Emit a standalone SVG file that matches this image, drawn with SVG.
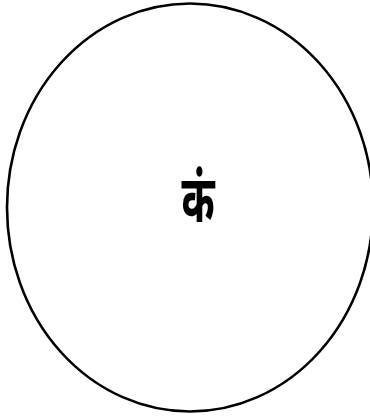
<svg xmlns="http://www.w3.org/2000/svg" width="370" height="418" viewBox="0 0 370 418">
<style>
.outline{fill:none;stroke:#000;stroke-width:2.6}
.lbl{font-family:"Noto Sans","Noto Sans Devanagari","DejaVu Sans",sans-serif;font-size:40px;font-weight:bold;fill:#000;text-anchor:middle}
</style>
<rect width="370" height="418" fill="#fff"/>
<g id="node-circle">
<ellipse class="outline" cx="190" cy="207.5" rx="183" ry="204"/>
<text class="lbl" transform="translate(198,222) scale(1,1.65)" x="0" y="0">कं</text>
</g>
</svg>
